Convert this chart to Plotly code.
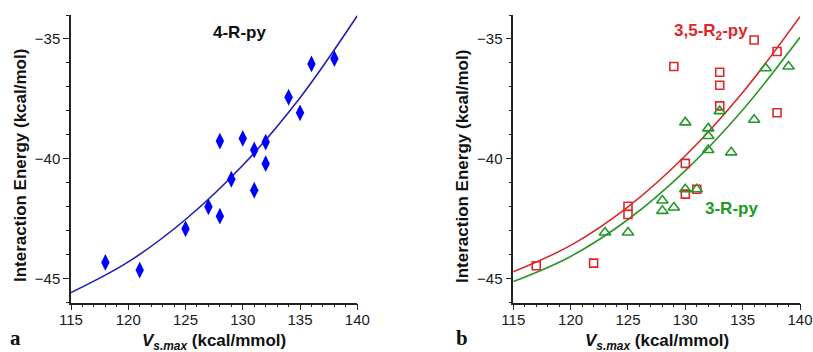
import plotly.graph_objects as go

# ---- data ----
x_4r = [118, 121, 125, 127, 128, 128, 129, 130, 131, 131, 132, 132, 134, 135, 136, 138]
y_4r = [-44.32, -44.64, -42.92, -42.0, -42.39, -39.26, -40.85, -39.15, -39.63, -41.31,
        -39.3, -40.2, -37.43, -38.08, -36.04, -35.82]

x_35 = [117, 122, 125, 125, 129, 130, 130, 131, 133, 133, 133, 136, 138, 138]
y_35 = [-44.46, -44.35, -41.98, -42.32, -36.15, -40.19, -41.47, -41.27, -36.39, -36.93,
        -37.79, -35.04, -35.52, -38.08]

x_3r = [123, 125, 128, 128, 129, 130, 130, 131, 132, 132, 132, 133, 134, 136, 137, 139]
y_3r = [-43.07, -43.07, -41.74, -42.17, -42.03, -38.48, -41.27, -41.27, -38.73, -39.05,
        -39.63, -38.01, -39.73, -38.37, -36.22, -36.15]

fit_x = [115, 120, 125, 130, 135, 140]
fit_4r = [-45.58, -44.3, -42.53, -40.27, -37.45, -34.03]
fit_35 = [-44.71, -43.61, -42.0, -39.87, -37.23, -34.07]
fit_3r = [-45.12, -44.07, -42.53, -40.49, -37.96, -34.93]

x_ticks = [115, 120, 125, 130, 135, 140]
y_ticks = [-45, -40, -35]
y_ticktext = ["\u221245", "\u221240", "\u221235"]

W, H = 813, 352


def px(xp):
    return xp / W


def py(yp):
    return 1 - yp / H


fig = go.Figure()

BLUE = "#0000ff"
RED = "#e0262b"
GREEN = "#219a2a"

fig.add_trace(go.Scatter(x=fit_x, y=fit_4r, mode="lines", line=dict(color="#2222b0", width=1.6, shape="spline"),
                         xaxis="x", yaxis="y", hoverinfo="skip"))
fig.add_trace(go.Scatter(x=x_4r, y=y_4r, mode="markers",
                         marker=dict(symbol="diamond-tall", size=12, color=BLUE, line=dict(width=0)),
                         xaxis="x", yaxis="y"))

fig.add_trace(go.Scatter(x=fit_x, y=fit_35, mode="lines", line=dict(color="#d42a2a", width=1.6, shape="spline"),
                         xaxis="x2", yaxis="y2", hoverinfo="skip"))
fig.add_trace(go.Scatter(x=fit_x, y=fit_3r, mode="lines", line=dict(color="#2a962a", width=1.6, shape="spline"),
                         xaxis="x2", yaxis="y2", hoverinfo="skip"))
fig.add_trace(go.Scatter(x=x_35, y=y_35, mode="markers",
                         marker=dict(symbol="square-open", size=8, color=RED, line=dict(width=1.6, color=RED)),
                         xaxis="x2", yaxis="y2"))
fig.add_trace(go.Scatter(x=x_3r, y=y_3r, mode="markers",
                         marker=dict(symbol="triangle-up-open", size=10, color=GREEN, line=dict(width=1.6, color=GREEN)),
                         xaxis="x2", yaxis="y2"))

tickfont = dict(family="Arial, Liberation Sans, sans-serif", size=15, color="#1a1a1a")
common_x = dict(range=[115, 140], tickvals=x_ticks, ticktext=[str(v) for v in x_ticks],
                showline=True, linecolor="#222", linewidth=1.5, ticks="outside", ticklen=6,
                tickwidth=1.3, tickcolor="#222", showgrid=False, zeroline=False, tickfont=tickfont,
                automargin=False, ticklabelstandoff=-3,
                minor=dict(dtick=1, ticks="outside", ticklen=3, tickwidth=1, tickcolor="#222"))
common_y = dict(range=[-46, -34], tickvals=y_ticks, ticktext=y_ticktext,
                showline=True, linecolor="#222", linewidth=1.5, ticks="outside", ticklen=6,
                tickwidth=1.3, tickcolor="#222", showgrid=False, zeroline=False, tickfont=tickfont,
                automargin=False,
                minor=dict(dtick=1, ticks="outside", ticklen=3, tickwidth=1, tickcolor="#222"))

ybot, ytop = py(302.7), py(15)
fig.update_layout(
    width=W, height=H, margin=dict(l=0, r=0, t=0, b=0, autoexpand=False),
    paper_bgcolor="white", plot_bgcolor="white", showlegend=False,
    xaxis=dict(domain=[px(71), px(357.3)], anchor="y", **common_x),
    yaxis=dict(domain=[ybot, ytop], anchor="x", **common_y),
    xaxis2=dict(domain=[px(513.3), px(800)], anchor="y2", **common_x),
    yaxis2=dict(domain=[ybot, ytop], anchor="x2", **common_y),
)

title_font = dict(family="Arial, Liberation Sans, sans-serif", size=17, color="#111")
xtitle = "<b><i>V</i></b><sub><b><i>s.max</i></b></sub><b> (kcal/mmol)</b>"
ytitle = "<b>Interaction Energy (kcal/mol)</b>"
ann = []
for cx in (214, 657):
    ann.append(dict(text=xtitle, x=px(cx), y=py(342), xref="paper", yref="paper",
                    showarrow=False, font=title_font, xanchor="center", yanchor="middle"))
for cx in (20, 462):
    ann.append(dict(text=ytitle, x=px(cx), y=py(166), xref="paper", yref="paper", textangle=-90,
                    showarrow=False, font=title_font, xanchor="center", yanchor="middle"))
letter_font = dict(family="Liberation Serif, Times New Roman, serif", size=21, color="#111")
ann.append(dict(text="<b>a</b>", x=px(15), y=py(338), xref="paper", yref="paper",
                showarrow=False, font=letter_font, xanchor="center", yanchor="middle"))
ann.append(dict(text="<b>b</b>", x=px(462), y=py(338), xref="paper", yref="paper",
                showarrow=False, font=letter_font, xanchor="center", yanchor="middle"))

lab_font = dict(family="Arial, Liberation Sans, sans-serif", size=17)
ann.append(dict(text="<b>4-R-py</b>", x=129.7, y=-34.74, xref="x", yref="y", showarrow=False,
                font=dict(color="#111", **lab_font), xanchor="center", yanchor="middle"))
ann.append(dict(text="<b>3,5-R<sub>2</sub>-py</b>", x=132.2, y=-34.7, xref="x2", yref="y2", showarrow=False,
                font=dict(color=RED, **lab_font), xanchor="center", yanchor="middle"))
ann.append(dict(text="<b>3-R-py</b>", x=134.05, y=-42.06, xref="x2", yref="y2", showarrow=False,
                font=dict(color=GREEN, **lab_font), xanchor="center", yanchor="middle"))
fig.update_layout(annotations=ann)

fig.write_html("out.html")
